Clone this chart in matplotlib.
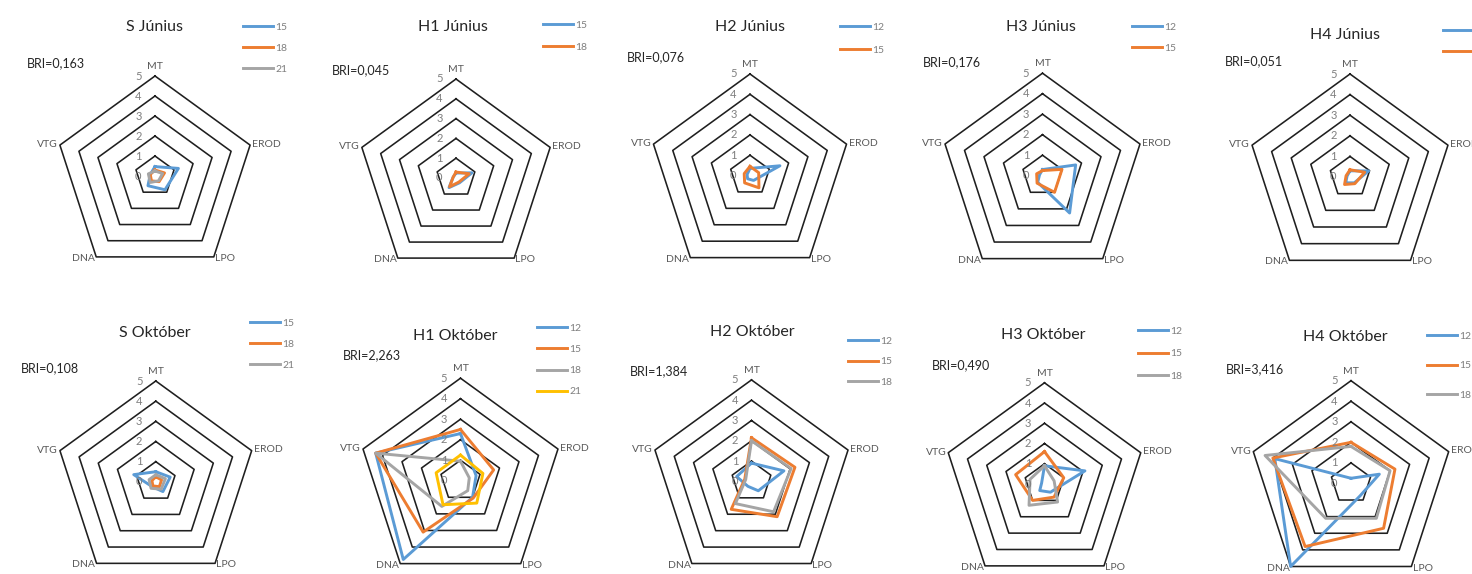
import numpy as np
import matplotlib
matplotlib.use('Agg')
import matplotlib.pyplot as plt

plt.rcParams['font.family'] = ['Lato', 'DejaVu Sans']

# --------------------------
# data
# --------------------------
categories = ['MT', 'EROD', 'LPO', 'DNA', 'VTG']
rings = [1, 2, 3, 4, 5]
tick_labels = ['0', '1', '2', '3', '4', '5']

titles = ['S Június', 'H1 Június', 'H2 Június', 'H3 Június', 'H4 Június',
          'S Október', 'H1 Október', 'H2 Október', 'H3 Október', 'H4 Október']
bri = ['BRI=0,163', 'BRI=0,045', 'BRI=0,076', 'BRI=0,176', 'BRI=0,051',
       'BRI=0,108', 'BRI=2,263', 'BRI=1,384', 'BRI=0,490', 'BRI=3,416']

# sampling days in each panel (legend)
days = [['15', '18', '21'], ['15', '18'], ['12', '15'], ['12', '15'], ['12', '15'],
        ['15', '18', '21'], ['12', '15', '18', '21'], ['12', '15', '18'],
        ['12', '15', '18'], ['12', '15', '18']]

# values in order MT, EROD, LPO, DNA, VTG
s_jun = [[0.47, 1.23, 0.85, 0.6, 0.25],
         [0.3, 0.5, 0.35, 0.3, 0.25],
         [0.25, 0.4, 0.3, 0.4, 0.35]]
h1_jun = [[0.25, 0.85, 0.3, 0.6, 0.15],
          [0.3, 0.7, 0.25, 0.55, 0.15]]
h2_jun = [[0.35, 1.55, 0.3, 0.2, 0.15],
          [0.45, 0.45, 0.75, 0.45, 0.3]]
h3_jun = [[0.3, 1.7, 2.25, 0.4, 0.15],
          [0.25, 1.0, 1.0, 0.45, 0.3]]
h4_jun = [[0.3, 0.95, 0.35, 0.35, 0.15],
          [0.35, 0.75, 0.4, 0.45, 0.2]]
s_okt = [[0.5, 0.75, 0.6, 0.3, 1.15],
         [0.25, 0.3, 0.3, 0.25, 0.2],
         [0.35, 0.5, 0.45, 0.4, 0.35]]
h1_okt = [[2.3, 0.8, 1.0, 4.75, 4.35],
          [2.5, 1.7, 1.05, 3.1, 4.35],
          [0.95, 0.45, 0.6, 1.55, 4.35],
          [1.25, 1.15, 1.35, 1.45, 1.25]]
h2_okt = [[0.9, 1.68, 0.57, 0.3, 0.77],
          [2.15, 2.25, 2.15, 1.7, 0.35],
          [2.0, 2.05, 1.85, 1.35, 0.3]]
h3_okt = [[0.9, 2.1, 0.5, 0.4, 0.15],
          [1.6, 1.0, 0.8, 1.0, 1.5],
          [0.9, 0.5, 1.1, 1.3, 0.75]]
h4_okt = [[0.25, 1.45, 0.75, 5.0, 3.9],
          [2.0, 2.25, 2.7, 3.8, 4.0],
          [1.8, 2.0, 2.1, 2.1, 4.4]]

panels = [s_jun, h1_jun, h2_jun, h3_jun, h4_jun,
          s_okt, h1_okt, h2_okt, h3_okt, h4_okt]

colors = ['#5B9BD5', '#ED7D31', '#A5A5A5', '#FFC000']

# --------------------------
# layout (pixels)
# --------------------------
W, H = 1472, 574
centers = [(155, 176, 100), (456, 178, 99), (750, 175.5, 101.5), (1042.5, 175.7, 102.5), (1350, 177, 103),
           (155.8, 481.8, 100.8), (460.5, 480.7, 102.5), (751.5, 481.4, 101.5), (1044.5, 484, 101.2), (1351, 483.4, 102.7)]
title_pos = [(155, 27), (453, 27), (750, 27), (1041, 27), (1345, 35),
             (155, 333), (455, 336), (752, 332), (1043, 335), (1345, 337)]
bri_pos = [(27, 63), (332, 70), (627, 57), (923, 62), (1225, 61),
           (21, 368), (343, 355), (630, 371), (932, 365), (1226, 369)]
legend_pos = [(243, 29, 24), (543, 27, 25), (840, 29, 26), (1132, 29, 24), (1443, 33, 24),
              (250, 325, 24), (537, 330, 24.3), (848, 343, 23.5), (1138, 333, 25.5), (1427, 338, 32.5)]

fig = plt.figure(figsize=(W / 100, H / 100), dpi=100)

angles = np.linspace(0, 2 * np.pi, len(categories), endpoint=False)
closed = np.append(angles, angles[0])
label_align = [('center', 'bottom', 5.25), ('left', 'center', 5.12), ('left', 'center', 5.1),
               ('right', 'center', 5.1), ('right', 'center', 5.1)]
leg_fs = 7.5

for i, data in enumerate(panels):
    cx, cy, r = centers[i]
    ax = fig.add_axes([(cx - r) / W, 1 - (cy + r) / H, 2 * r / W, 2 * r / H], projection='polar')
    ax.set_theta_offset(np.pi / 2)
    ax.set_theta_direction(-1)
    ax.set_ylim(0, 5)
    ax.axis('off')

    # pentagon grid
    for k in rings:
        ax.plot(closed, [k] * len(closed), color='#1f1f1f', lw=1.15, clip_on=False)

    for k, t in enumerate(tick_labels):
        ax.annotate(t, xy=(0, k), xytext=(-12, 0), textcoords='offset points',
                    ha='center', va='center', fontsize=8, color='#7f7f7f')

    for a, cat, (ha, va, rr) in zip(angles, categories, label_align):
        ax.text(a, rr, cat, ha=ha, va=va, fontsize=7.5, color='#595959', clip_on=False)

    for j, vals in enumerate(data):
        v = vals + vals[:1]
        ax.plot(closed, v, color=colors[j], lw=2.1, label=days[i][j], clip_on=False)

    lx, ly, pitch = legend_pos[i]
    fs_px = leg_fs * 100 / 72
    ax.legend(loc='upper left', bbox_to_anchor=(lx / W, 1 - (ly - 0.6 * fs_px) / H),
              bbox_transform=fig.transFigure, frameon=False, borderpad=0, borderaxespad=0,
              fontsize=leg_fs, labelcolor='#7f7f7f', handlelength=30 / fs_px,
              handletextpad=0.25, labelspacing=(pitch - 1.2 * fs_px) / fs_px)

    tx, ty = title_pos[i]
    fig.text(tx / W, 1 - ty / H, titles[i], ha='center', va='center', fontsize=11.5, color='#262626')
    bx, by = bri_pos[i]
    fig.text(bx / W, 1 - by / H, bri[i], ha='left', va='center', fontsize=9, color='#262626')

fig.savefig('out.png', dpi=100)
